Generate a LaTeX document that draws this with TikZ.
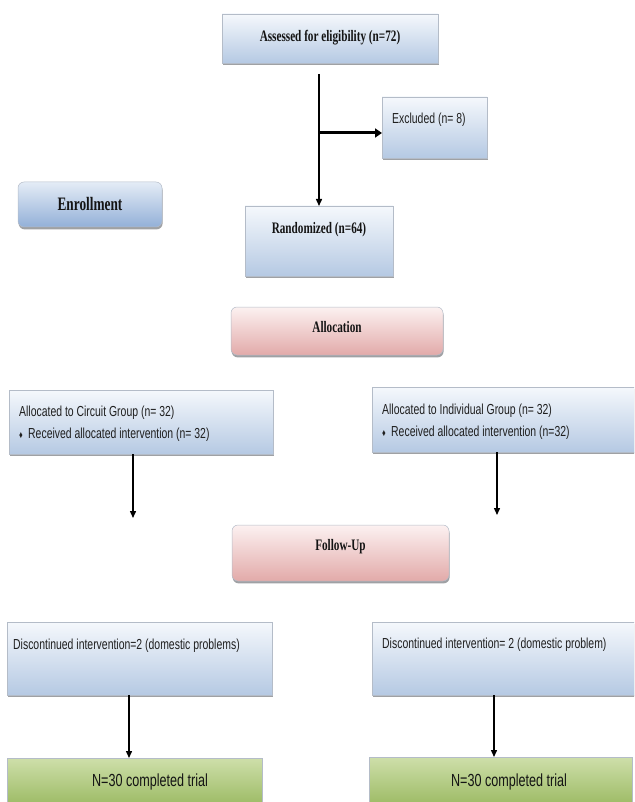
\documentclass[tikz,border=0pt]{standalone}
\usepackage{fontspec}
\setmainfont{Liberation Serif}
\newfontfamily\cfserif[FakeStretch=0.7]{Liberation Serif}
\newfontfamily\cfsans[FakeStretch=0.72]{Liberation Sans}
\usetikzlibrary{shadows,arrows.meta,calc}
\definecolor{blueTop}{HTML}{F5F8FC}
\definecolor{blueBot}{HTML}{B5C9E3}
\definecolor{enrTop}{HTML}{E4ECF6}
\definecolor{enrBot}{HTML}{93B0D8}
\definecolor{pinkTop}{HTML}{FCF1F1}
\definecolor{pinkBot}{HTML}{E2AAA9}
\definecolor{greenTop}{HTML}{CEDFAA}
\definecolor{greenBot}{HTML}{92B356}
\definecolor{boxedge}{HTML}{B4BCC8}
\definecolor{shadowgray}{HTML}{8E9094}
\begin{document}
\begin{tikzpicture}[x=1pt,y=-1pt,
  box/.style={rectangle, inner sep=0pt, outer sep=0pt, draw=boxedge, line width=0.5pt,
    drop shadow={shadow xshift=0.6pt, shadow yshift=-2.4pt, fill=shadowgray, opacity=0.85}},
  bluebox/.style={box, top color=blueTop, bottom color=blueBot},
  enrbox/.style={box, rounded corners=6pt, top color=enrTop, bottom color=enrBot},
  pinkbox/.style={box, rounded corners=6pt, top color=pinkTop, bottom color=pinkBot},
  greenbox/.style={box, top color=greenTop, bottom color=greenBot},
  ttl/.style={inner sep=0pt, font=\cfserif\bfseries\fontsize{16}{18}\selectfont, text=black!92},
  txt/.style={inner sep=0pt, anchor=west, font=\cfsans\fontsize{14.5}{16}\selectfont, text=black!88},
  arr/.style={line width=1.4pt, -{Triangle[length=7pt,width=6pt]}},
  thickarr/.style={line width=3pt, -{Triangle[length=7pt,width=9pt]}}
]
\useasboundingbox (0,0) rectangle (634,802);
\clip (0,0) rectangle (634,802);

% boxes
\node[bluebox, minimum width=216pt, minimum height=49pt] (assess) at (330,38.5) {};
\node[bluebox, minimum width=105pt, minimum height=61pt] (excl) at (434.5,127.5) {};
\node[enrbox, minimum width=144pt, minimum height=45pt] (enroll) at (90,204.5) {};
\node[bluebox, minimum width=148pt, minimum height=70pt] (rand) at (319,241) {};
\node[pinkbox, minimum width=212pt, minimum height=48pt] (alloc) at (337,331) {};
\node[bluebox, minimum width=264pt, minimum height=64pt] (circ) at (141,422) {};
\node[bluebox, minimum width=268pt, minimum height=65pt] (indiv) at (506,419.5) {};
\node[pinkbox, minimum width=217pt, minimum height=56pt] (follow) at (340.5,553) {};
\node[bluebox, minimum width=265pt, minimum height=73pt] (discL) at (139.5,658.5) {};
\node[bluebox, minimum width=268pt, minimum height=73pt] (discR) at (506,658.5) {};
\node[greenbox, minimum width=255pt, minimum height=57pt] (compL) at (134.5,786.5) {};
\node[greenbox, minimum width=263pt, minimum height=58pt] (compR) at (500.5,786) {};

% texts
\node[ttl] (tAssess) at (330,38) {Assessed for eligibility (n=72)};
\node[txt] (tExcl) at (392,120) {Excluded (n= 8)};
\node[ttl, font=\cfserif\bfseries\fontsize{19}{21}\selectfont] (tEnroll) at (90,204) {Enrollment};
\node[ttl] (tRand) at (319,230) {Randomized (n=64)};
\node[ttl] (tAlloc) at (337,327) {Allocation};
\node[txt] (tCirc1) at (19,413) {Allocated to Circuit Group (n= 32)};
\node[txt] (tCirc2) at (19,435) {{\fontsize{10}{11}\selectfont\char"2666}\, Received allocated intervention (n= 32)};
\node[txt] (tInd1) at (382,411) {Allocated to Individual Group (n= 32)};
\node[txt] (tInd2) at (382,433) {{\fontsize{10}{11}\selectfont\char"2666}\, Received allocated intervention (n=32)};
\node[ttl] (tFollow) at (340.5,547) {Follow-Up};
\node[txt] (tDiscL) at (13,646) {Discontinued intervention=2 (domestic problems)};
\node[txt] (tDiscR) at (382,645) {Discontinued intervention= 2 (domestic problem)};
\node[txt, anchor=center, font=\cfsans\fontsize{17.5}{19}\selectfont, text=black!92] (tCompL) at (150,782) {N=30 completed trial};
\node[txt, anchor=center, font=\cfsans\fontsize{17.5}{19}\selectfont, text=black!92] (tCompR) at (509,782) {N=30 completed trial};

% connectors
\coordinate (a1) at (319,74);
\draw[arr] (a1) -- (a1 |- rand.north);
\coordinate (a2) at (320,133);
\draw[thickarr] (a2) -- (a2 -| excl.west);
\coordinate (c1) at (133,518);
\draw[arr] (c1 |- circ.south) -- (c1);
\coordinate (c2) at (497,515);
\draw[arr] (c2 |- indiv.south) -- (c2);
\coordinate (d1) at (129,0);
\draw[arr] (d1 |- discL.south) -- (d1 |- compL.north);
\coordinate (d2) at (494,0);
\draw[arr] (d2 |- discR.south) -- (d2 |- compR.north);
\end{tikzpicture}
\end{document}
